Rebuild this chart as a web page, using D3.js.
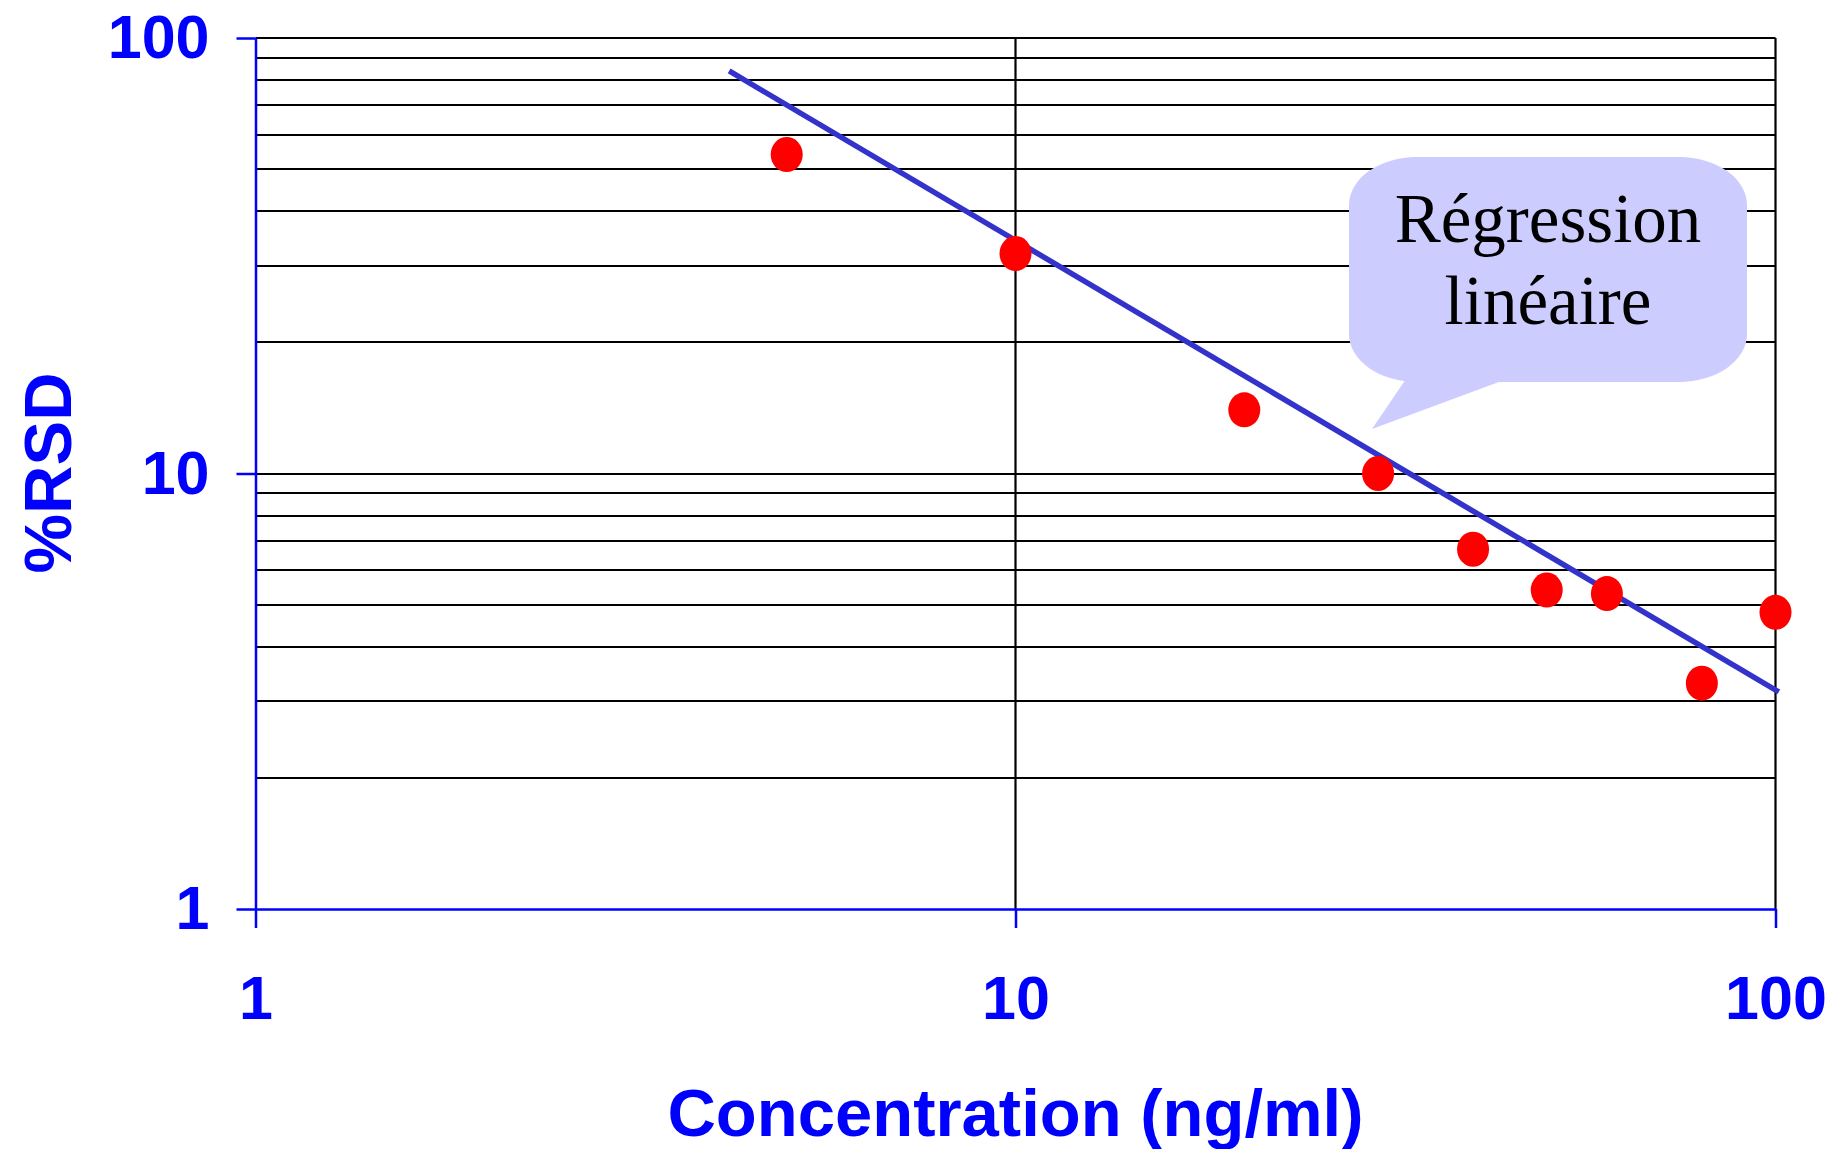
<!DOCTYPE html>
<html>
<head>
<meta charset="utf-8">
<script src="https://cdn.jsdelivr.net/npm/d3@7"></script>
<style>
  body { margin: 0; background: #fff; }
  svg { display: block; }
</style>
</head>
<body>
<svg width="1827" height="1149"></svg>
<script>
// data
const concentration = [5, 10, 20, 30, 40, 50, 60, 80, 100];
const rsd = [54, 32, 14, 10, 6.7, 5.4, 5.3, 3.3, 4.8];
const regressionX = [4.2, 101];
const regressionY = [84, 3.15];
const tickValues = [1, 10, 100];
const calloutLines = ["Régression", "linéaire"];

const svg = d3.select("svg"),
      margin = {top: 38, left: 255.5},
      width = 1520,
      height = 871,
      g = svg.append("g").attr("transform", `translate(${margin.left},${margin.top})`);

const blue = "#0000ff";

const x = d3.scaleLog().domain([1, 100]).range([0, width]);
const y = d3.scaleLog().domain([1, 100]).range([height, 0]);

// horizontal grid at every log step
g.append("g")
  .selectAll("line")
  .data(y.ticks().filter(d => d > 1))
  .join("line")
  .attr("x1", 0)
  .attr("x2", width)
  .attr("y1", d => Math.round(y(d)))
  .attr("y2", d => Math.round(y(d)))
  .attr("stroke", "#000")
  .attr("stroke-width", 2.2);

// vertical grid at the decades
g.append("g")
  .selectAll("line")
  .data(tickValues.filter(d => d > 1))
  .join("line")
  .attr("x1", d => x(d))
  .attr("x2", d => x(d))
  .attr("y1", 0)
  .attr("y2", height)
  .attr("stroke", "#000")
  .attr("stroke-width", 2.2);

// axes
const yAxis = g.append("g")
  .call(d3.axisLeft(y).tickValues(tickValues).tickSize(19).tickSizeOuter(0).tickPadding(27).tickFormat(d3.format("d")));

const xAxis = g.append("g")
  .attr("transform", `translate(0,${height})`)
  .call(d3.axisBottom(x).tickValues(tickValues).tickSize(19).tickSizeOuter(0).tickPadding(48).tickFormat(d3.format("d")));

[yAxis, xAxis].forEach(ax => {
  ax.select(".domain").attr("stroke", blue).attr("stroke-width", 2.5);
  ax.selectAll(".tick line").attr("stroke", blue).attr("stroke-width", 2.5);
  ax.selectAll(".tick text")
    .attr("fill", blue)
    .style("font-family", "'Liberation Sans', Arial, sans-serif")
    .style("font-weight", "bold")
    .style("font-size", "61px");
});

// regression line
const fit = regressionX.map((v, i) => ({x: v, y: regressionY[i]}));
g.append("path")
  .datum(fit)
  .attr("fill", "none")
  .attr("stroke", "#3333cc")
  .attr("stroke-width", 5.5)
  .attr("d", d3.line().x(d => x(d.x)).y(d => y(d.y)));

// points
g.selectAll("ellipse.pt")
  .data(concentration.map((c, i) => ({x: c, y: rsd[i]})))
  .join("ellipse")
  .attr("class", "pt")
  .attr("cx", d => x(d.x))
  .attr("cy", d => y(d.y))
  .attr("rx", 16)
  .attr("ry", 17.5)
  .attr("fill", "#ff0000");

// callout bubble
const callout = svg.append("g");
callout.append("rect")
  .attr("x", 1349)
  .attr("y", 157)
  .attr("width", 398)
  .attr("height", 225)
  .attr("rx", 68)
  .attr("ry", 48)
  .attr("fill", "#ccccff");
callout.append("polygon")
  .attr("points", "1408,376 1515,376 1372,429")
  .attr("fill", "#ccccff");
callout.selectAll("text")
  .data(calloutLines)
  .join("text")
  .attr("x", 1548)
  .attr("y", (d, i) => 242 + i * 82)
  .attr("text-anchor", "middle")
  .style("font-family", "'Liberation Serif', 'Times New Roman', serif")
  .style("font-size", "69px")
  .attr("fill", "#000")
  .text(d => d);

// axis titles
svg.append("text")
  .attr("x", margin.left + width / 2)
  .attr("y", 1136)
  .attr("text-anchor", "middle")
  .style("font-family", "'Liberation Sans', Arial, sans-serif")
  .style("font-weight", "bold")
  .style("font-size", "67px")
  .attr("fill", blue)
  .text("Concentration (ng/ml)");

svg.append("text")
  .attr("transform", "rotate(-90)")
  .attr("x", -473)
  .attr("y", 71)
  .attr("text-anchor", "middle")
  .style("font-family", "'Liberation Sans', Arial, sans-serif")
  .style("font-weight", "bold")
  .style("font-size", "67px")
  .attr("fill", blue)
  .text("%RSD");
</script>
</body>
</html>
